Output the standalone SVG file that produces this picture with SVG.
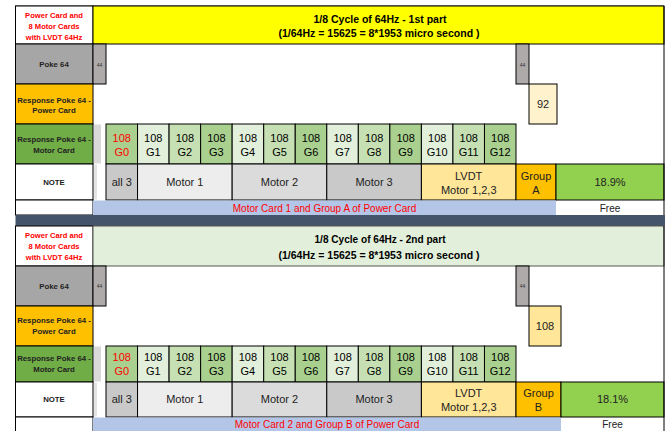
<svg xmlns="http://www.w3.org/2000/svg" width="665" height="431" viewBox="0 0 665 431">
<style>
text{font-family:"Liberation Sans",Arial,sans-serif;text-anchor:middle;fill:#000}
.c{stroke:#000;stroke-width:1}
.lb{font-size:7.8px;font-weight:bold;fill:#222}
.red{font-size:7.6px;font-weight:bold;fill:#FF0000}
.hd{font-size:10px;font-weight:bold}
.v{font-size:11px;fill:#222}
.vr{font-size:11px;fill:#FF0000}
.t{font-size:5px;fill:#333}
.bt{font-size:10px;fill:#FF0000}
.fr{font-size:10px;fill:#222}
.g1{fill:#A9D08E}.g2{fill:#E2EFDA}.g3{fill:#C6E0B4}
</style>
<rect width="665" height="431" fill="#fff"/>
<line x1="15" y1="5.5" x2="664" y2="5.5" stroke="#999" stroke-width="1"/>

<g id="part1">
 <g id="p1-header">
  <rect class="c" x="15.5" y="6" width="77.5" height="38" fill="#fff"/>
  <text class="red" x="54" y="17.7">Power Card and</text>
  <text class="red" x="54" y="28.7">8 Motor Cards</text>
  <text class="red" x="54" y="39.7">with LVDT 64Hz</text>
  <rect class="c" x="93" y="6" width="571" height="38" fill="#FFFF00"/>
  <text class="hd" x="380" y="22.5" textLength="133" lengthAdjust="spacingAndGlyphs">1/8 Cycle of 64Hz  - 1st part</text>
  <text class="hd" x="379" y="37" textLength="201" lengthAdjust="spacingAndGlyphs">(1/64Hz  = 15625 = 8*1953 micro second )</text>
 </g>
 <g id="p1-poke">
  <rect class="c" x="15.5" y="44" width="77.5" height="40" fill="#A6A6A6"/>
  <text class="lb" x="54" y="67.3">Poke 64</text>
  <rect class="c" x="93" y="44" width="13" height="40" fill="#AEAAAA"/>
  <text class="t" x="99.5" y="66.5">44</text>
  <rect class="c" x="516" y="44" width="13" height="40" fill="#AEAAAA"/>
  <text class="t" x="522.5" y="66.5">44</text>
 </g>
 <g id="p1-resp-power">
  <rect class="c" x="15.5" y="84" width="77.5" height="40" fill="#FFC000"/>
  <text class="lb" x="54" y="102.8">Response Poke 64 -</text>
  <text class="lb" x="54" y="113">Power Card</text>
  <rect class="c" x="529" y="84" width="28" height="40" fill="#FFF2CC"/>
  <text class="v" x="543" y="107.9">92</text>
 </g>
 <g id="p1-resp-motor">
  <rect class="c" x="15.5" y="124" width="77.5" height="40" fill="#70AD47"/>
  <text class="lb" x="54" y="141.8">Response Poke 64 -</text>
  <text class="lb" x="54" y="152.8">Motor Card</text>
  <rect x="94" y="124.5" width="7" height="39" fill="#D9D9D9"/>
  <rect class="c g1" x="106" y="124" width="31.54" height="40"/>
  <rect class="c g2" x="137.54" y="124" width="31.54" height="40"/>
  <rect class="c g3" x="169.08" y="124" width="31.54" height="40"/>
  <rect class="c g1" x="200.62" y="124" width="31.54" height="40"/>
  <rect class="c g2" x="232.16" y="124" width="31.54" height="40"/>
  <rect class="c g3" x="263.7" y="124" width="31.54" height="40"/>
  <rect class="c g1" x="295.24" y="124" width="31.54" height="40"/>
  <rect class="c g2" x="326.78" y="124" width="31.54" height="40"/>
  <rect class="c g3" x="358.32" y="124" width="31.54" height="40"/>
  <rect class="c g1" x="389.86" y="124" width="31.54" height="40"/>
  <rect class="c g2" x="421.4" y="124" width="31.54" height="40"/>
  <rect class="c g3" x="452.94" y="124" width="31.54" height="40"/>
  <rect class="c g1" x="484.48" y="124" width="31.52" height="40"/>
  <g class="v">
   <text class="vr" x="121.8" y="141.9">108</text><text class="vr" x="121.8" y="155.9">G0</text>
   <text x="153.3" y="141.9">108</text><text x="153.3" y="155.9">G1</text>
   <text x="184.9" y="141.9">108</text><text x="184.9" y="155.9">G2</text>
   <text x="216.4" y="141.9">108</text><text x="216.4" y="155.9">G3</text>
   <text x="247.9" y="141.9">108</text><text x="247.9" y="155.9">G4</text>
   <text x="279.5" y="141.9">108</text><text x="279.5" y="155.9">G5</text>
   <text x="311" y="141.9">108</text><text x="311" y="155.9">G6</text>
   <text x="342.6" y="141.9">108</text><text x="342.6" y="155.9">G7</text>
   <text x="374.1" y="141.9">108</text><text x="374.1" y="155.9">G8</text>
   <text x="405.6" y="141.9">108</text><text x="405.6" y="155.9">G9</text>
   <text x="437.2" y="141.9">108</text><text x="437.2" y="155.9">G10</text>
   <text x="468.7" y="141.9">108</text><text x="468.7" y="155.9">G11</text>
   <text x="500.2" y="141.9">108</text><text x="500.2" y="155.9">G12</text>
  </g>
 </g>
 <g id="p1-note">
  <rect class="c" x="15.5" y="164" width="77.5" height="36" fill="#fff"/>
  <text class="lb" x="54" y="184.8">NOTE</text>
  <rect x="94" y="164.5" width="3" height="35" fill="#E4E4E4"/>
  <rect class="c" x="106" y="164" width="31.54" height="36" fill="#C9C9C9"/>
  <rect class="c" x="137.54" y="164" width="94.62" height="36" fill="#EDEDED"/>
  <rect class="c" x="232.16" y="164" width="94.62" height="36" fill="#DBDBDB"/>
  <rect class="c" x="326.78" y="164" width="94.62" height="36" fill="#C9C9C9"/>
  <rect class="c" x="421.4" y="164" width="94.6" height="36" fill="#FFE699"/>
  <rect class="c" x="516" y="164" width="40" height="36" fill="#FFC000"/>
  <rect class="c" x="556" y="164" width="108" height="36" fill="#92D050"/>
  <text class="v" x="121.8" y="185.9">all 3</text>
  <text class="v" x="184.8" y="185.9">Motor 1</text>
  <text class="v" x="279.5" y="185.9">Motor 2</text>
  <text class="v" x="374.1" y="185.9">Motor 3</text>
  <text class="v" x="468.7" y="179.9">LVDT</text>
  <text class="v" x="468.7" y="193.9">Motor 1,2,3</text>
  <text class="v" x="536" y="179.9">Group</text>
  <text class="v" x="536" y="193.9">A</text>
  <text class="v" x="610" y="185.9">18.9%</text>
 </g>
 <g id="p1-footer">
  <rect class="c" x="15.5" y="200" width="77.5" height="15" fill="#fff"/>
  <rect x="93" y="200.5" width="463" height="14.5" fill="#B4C6E7"/>
  <text class="bt" x="324.5" y="211.5">Motor Card 1 and Group A of Power Card</text>
  <text class="fr" x="610" y="211.5">Free</text>
 </g>
 <line x1="664" y1="6" x2="664" y2="215" stroke="#000"/>
</g>

<rect id="separator" x="15.5" y="215" width="649.5" height="11" fill="#44546A"/>

<g id="part2">
 <g id="p2-header">
  <rect class="c" x="15.5" y="226" width="77.5" height="40" fill="#fff"/>
  <text class="red" x="54" y="237.7">Power Card and</text>
  <text class="red" x="54" y="248.7">8 Motor Cards</text>
  <text class="red" x="54" y="259.7">with LVDT 64Hz</text>
  <rect x="93" y="226" width="571" height="40" fill="#E2EFDA" stroke="#555" stroke-width="1"/>
  <text class="hd" x="380" y="242.5" textLength="131" lengthAdjust="spacingAndGlyphs">1/8 Cycle of 64Hz - 2nd part</text>
  <text class="hd" x="379" y="258.5" textLength="201" lengthAdjust="spacingAndGlyphs">(1/64Hz  = 15625 = 8*1953 micro second )</text>
 </g>
 <g id="p2-poke">
  <rect class="c" x="15.5" y="266" width="77.5" height="40" fill="#A6A6A6"/>
  <text class="lb" x="54" y="288.8">Poke 64</text>
  <rect class="c" x="93" y="266" width="13" height="40" fill="#AEAAAA"/>
  <text class="t" x="99.5" y="288">44</text>
  <rect class="c" x="516" y="266" width="13" height="40" fill="#AEAAAA"/>
  <text class="t" x="522.5" y="288">44</text>
 </g>
 <g id="p2-resp-power">
  <rect class="c" x="15.5" y="306" width="77.5" height="40" fill="#FFC000"/>
  <text class="lb" x="54" y="322.8">Response Poke 64 -</text>
  <text class="lb" x="54" y="333.8">Power Card</text>
  <rect class="c" x="529" y="306" width="32" height="40" fill="#FFE699"/>
  <text class="v" x="545" y="329.9">108</text>
 </g>
 <g id="p2-resp-motor">
  <rect class="c" x="15.5" y="346" width="77.5" height="36" fill="#70AD47"/>
  <text class="lb" x="54" y="360.8">Response Poke 64 -</text>
  <text class="lb" x="54" y="371.8">Motor Card</text>
  <rect x="94" y="346.5" width="7" height="35" fill="#D9D9D9"/>
  <rect class="c g1" x="106" y="346" width="31.54" height="36"/>
  <rect class="c g2" x="137.54" y="346" width="31.54" height="36"/>
  <rect class="c g3" x="169.08" y="346" width="31.54" height="36"/>
  <rect class="c g1" x="200.62" y="346" width="31.54" height="36"/>
  <rect class="c g2" x="232.16" y="346" width="31.54" height="36"/>
  <rect class="c g3" x="263.7" y="346" width="31.54" height="36"/>
  <rect class="c g1" x="295.24" y="346" width="31.54" height="36"/>
  <rect class="c g2" x="326.78" y="346" width="31.54" height="36"/>
  <rect class="c g3" x="358.32" y="346" width="31.54" height="36"/>
  <rect class="c g1" x="389.86" y="346" width="31.54" height="36"/>
  <rect class="c g2" x="421.4" y="346" width="31.54" height="36"/>
  <rect class="c g3" x="452.94" y="346" width="31.54" height="36"/>
  <rect class="c g1" x="484.48" y="346" width="31.52" height="36"/>
  <g class="v">
   <text class="vr" x="121.8" y="360.9">108</text><text class="vr" x="121.8" y="374.9">G0</text>
   <text x="153.3" y="360.9">108</text><text x="153.3" y="374.9">G1</text>
   <text x="184.9" y="360.9">108</text><text x="184.9" y="374.9">G2</text>
   <text x="216.4" y="360.9">108</text><text x="216.4" y="374.9">G3</text>
   <text x="247.9" y="360.9">108</text><text x="247.9" y="374.9">G4</text>
   <text x="279.5" y="360.9">108</text><text x="279.5" y="374.9">G5</text>
   <text x="311" y="360.9">108</text><text x="311" y="374.9">G6</text>
   <text x="342.6" y="360.9">108</text><text x="342.6" y="374.9">G7</text>
   <text x="374.1" y="360.9">108</text><text x="374.1" y="374.9">G8</text>
   <text x="405.6" y="360.9">108</text><text x="405.6" y="374.9">G9</text>
   <text x="437.2" y="360.9">108</text><text x="437.2" y="374.9">G10</text>
   <text x="468.7" y="360.9">108</text><text x="468.7" y="374.9">G11</text>
   <text x="500.2" y="360.9">108</text><text x="500.2" y="374.9">G12</text>
  </g>
 </g>
 <g id="p2-note">
  <rect class="c" x="15.5" y="382" width="77.5" height="35" fill="#fff"/>
  <text class="lb" x="54" y="402.1">NOTE</text>
  <rect x="94" y="382.5" width="3" height="34" fill="#E4E4E4"/>
  <rect class="c" x="106" y="382" width="31.54" height="35" fill="#C9C9C9"/>
  <rect class="c" x="137.54" y="382" width="94.62" height="35" fill="#EDEDED"/>
  <rect class="c" x="232.16" y="382" width="94.62" height="35" fill="#DBDBDB"/>
  <rect class="c" x="326.78" y="382" width="94.62" height="35" fill="#C9C9C9"/>
  <rect class="c" x="421.4" y="382" width="94.6" height="35" fill="#FFE699"/>
  <rect class="c" x="516" y="382" width="45" height="35" fill="#FFC000"/>
  <rect class="c" x="561" y="382" width="103" height="35" fill="#92D050"/>
  <text class="v" x="121.8" y="402.9">all 3</text>
  <text class="v" x="184.8" y="402.9">Motor 1</text>
  <text class="v" x="279.5" y="402.9">Motor 2</text>
  <text class="v" x="374.1" y="402.9">Motor 3</text>
  <text class="v" x="468.7" y="396.9">LVDT</text>
  <text class="v" x="468.7" y="410.9">Motor 1,2,3</text>
  <text class="v" x="538.5" y="396.9">Group</text>
  <text class="v" x="538.5" y="410.9">B</text>
  <text class="v" x="612.5" y="402.9">18.1%</text>
 </g>
 <g id="p2-footer">
  <rect class="c" x="15.5" y="417" width="77.5" height="16" fill="#fff"/>
  <rect x="93" y="417.5" width="468" height="14" fill="#B4C6E7"/>
  <text class="bt" x="327" y="427.5">Motor Card 2 and Group B of Power Card</text>
  <text class="fr" x="612.5" y="427.5">Free</text>
 </g>
 <line x1="664" y1="226" x2="664" y2="431" stroke="#000"/>
</g>
</svg>
